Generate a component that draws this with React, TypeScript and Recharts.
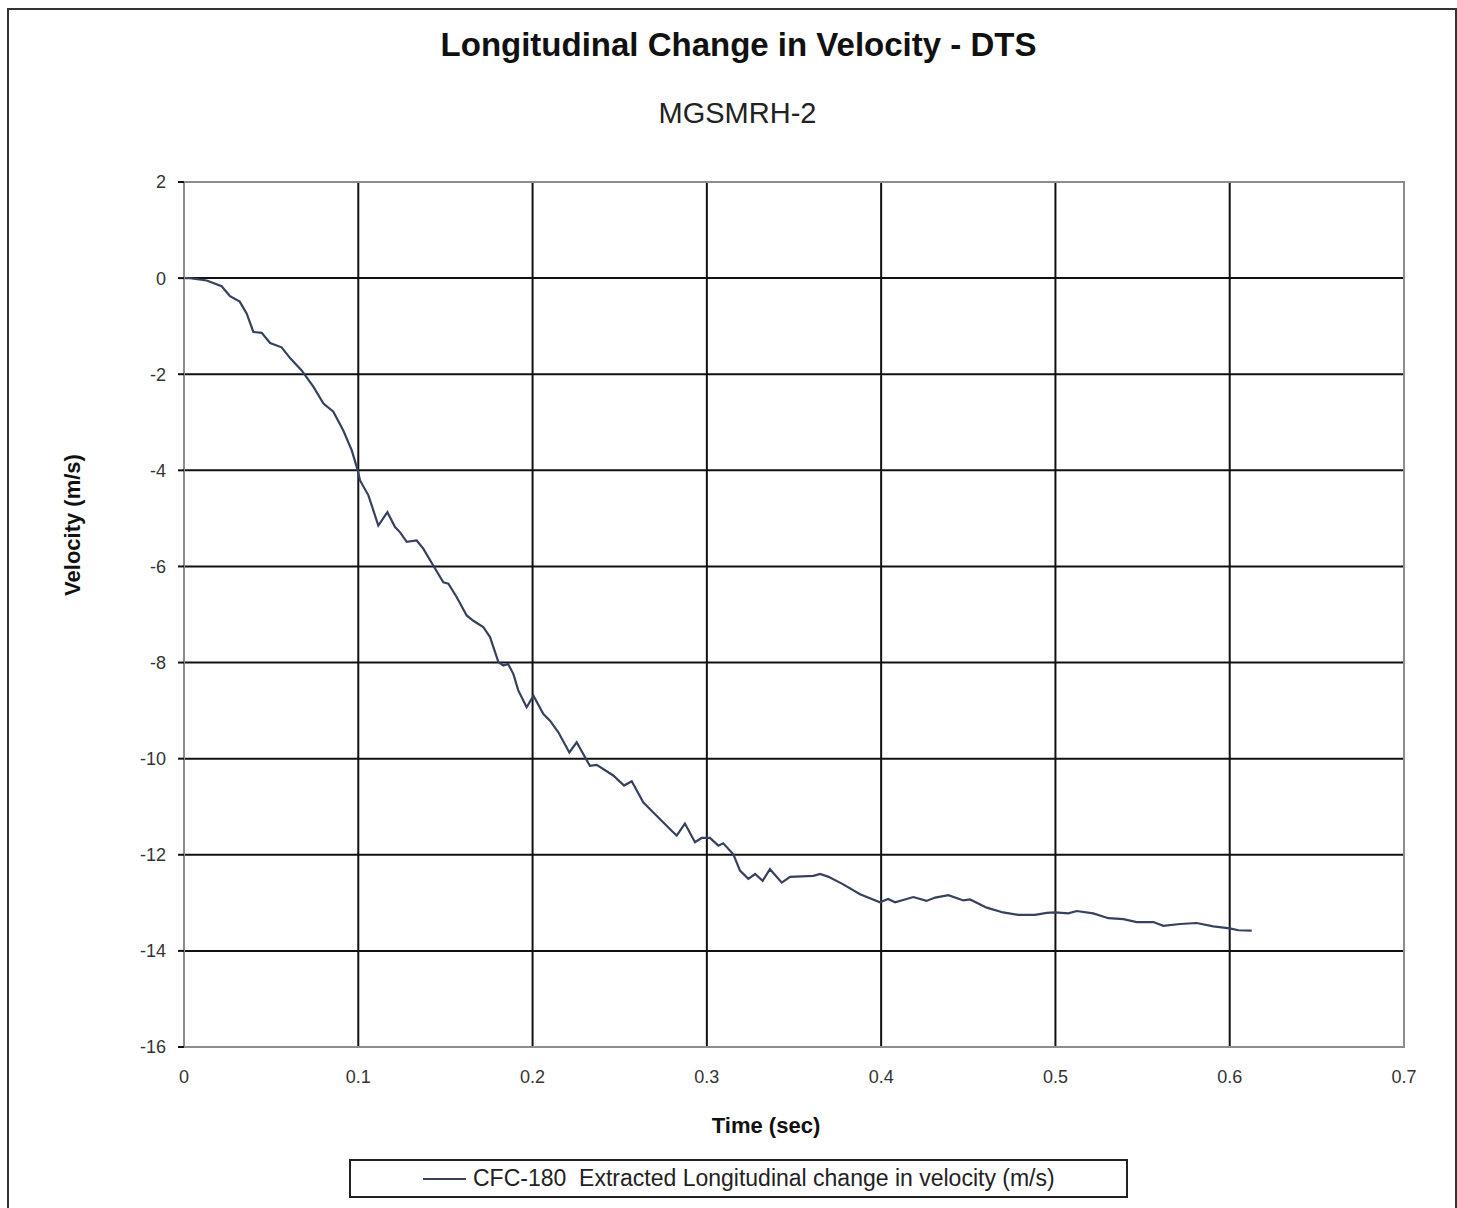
import { CartesianGrid, Legend, Line, LineChart, ReferenceArea, XAxis, YAxis } from "recharts";

const timeSec = [
  0, 0.0034, 0.013, 0.0216, 0.0264, 0.032, 0.036, 0.0398, 0.0446, 0.0494, 0.056, 0.061, 0.0675, 0.0742,
  0.08, 0.0857, 0.0914, 0.0962, 0.0997, 0.101, 0.1058, 0.1115, 0.1167, 0.1211, 0.124, 0.1278, 0.1335,
  0.1373, 0.143, 0.1488, 0.1517, 0.1565, 0.1622, 0.166, 0.1717, 0.1756, 0.1804, 0.1832, 0.186, 0.189,
  0.1918, 0.1966, 0.2005, 0.2062, 0.21, 0.2148, 0.2211, 0.2253, 0.2329, 0.2368, 0.2463, 0.2525, 0.2569,
  0.2635, 0.2693, 0.2798, 0.2827, 0.2874, 0.2932, 0.297, 0.3018, 0.3066, 0.3094, 0.3152, 0.319, 0.3238,
  0.3277, 0.332, 0.3362, 0.343, 0.3477, 0.3611, 0.365, 0.3698, 0.378, 0.3879, 0.3993, 0.404, 0.408,
  0.4185, 0.426, 0.431, 0.4386, 0.4472, 0.451, 0.4606, 0.47, 0.4787, 0.4883, 0.495, 0.4998, 0.5074,
  0.5122, 0.5217, 0.5304, 0.539, 0.5466, 0.5562, 0.5619, 0.5715, 0.581, 0.5906, 0.6, 0.605, 0.6126,
];

const velocity = [
  0, 0, -0.05, -0.17, -0.375, -0.49, -0.74, -1.12, -1.14, -1.35, -1.44, -1.67, -1.92, -2.26,
  -2.61, -2.78, -3.17, -3.58, -4.0, -4.21, -4.52, -5.15, -4.87, -5.18, -5.29, -5.49, -5.46,
  -5.63, -5.98, -6.33, -6.36, -6.64, -7.02, -7.13, -7.26, -7.47, -7.99, -8.06, -8.03, -8.24,
  -8.58, -8.93, -8.69, -9.07, -9.21, -9.45, -9.87, -9.66, -10.15, -10.13, -10.35, -10.56, -10.47,
  -10.91, -11.12, -11.5, -11.6, -11.35, -11.74, -11.65, -11.65, -11.81, -11.76, -11.99, -12.33, -12.5,
  -12.4, -12.54, -12.3, -12.58, -12.46, -12.44, -12.4, -12.46, -12.61, -12.82, -12.99, -12.92, -12.99,
  -12.88, -12.96, -12.89, -12.84, -12.95, -12.93, -13.1, -13.2, -13.25, -13.25, -13.21, -13.2, -13.22,
  -13.17, -13.22, -13.32, -13.34, -13.4, -13.4, -13.48, -13.44, -13.42, -13.49, -13.53, -13.57, -13.58,
];

const xTicks = [0, 0.1, 0.2, 0.3, 0.4, 0.5, 0.6, 0.7];
const yTicks = [2, 0, -2, -4, -6, -8, -10, -12, -14, -16];

const seriesName = "CFC-180  Extracted Longitudinal change in velocity (m/s)";
const lineColor = "#36415f";
const font = "'Liberation Sans', Arial, sans-serif";

const data = timeSec.map((t, i) => ({ t, v: velocity[i] }));

function LegendBox() {
  return (
    <div style={{ display: "flex", alignItems: "center", height: "100%", fontFamily: font }}>
      <svg width={50} height={10} style={{ marginLeft: 72 }}>
        <line x1={0} y1={5} x2={43} y2={5} stroke={lineColor} strokeWidth={2} />
      </svg>
      <span style={{ fontSize: 23, color: "#222", whiteSpace: "pre" }}>{seriesName}</span>
    </div>
  );
}

export default function App() {
  return (
    <div style={{ position: "absolute", left: 0, top: 0, width: 1457, height: 1208, background: "#fff", overflow: "hidden", fontFamily: font }}>
      <div style={{ position: "absolute", left: 7, top: 8, width: 1446, height: 1230, border: "2px solid #333" }} />
      <div style={{ position: "absolute", left: 0, width: 1477, top: 26, textAlign: "center", fontSize: 33, fontWeight: "bold", color: "#111" }}>
        Longitudinal Change in Velocity - DTS
      </div>
      <div style={{ position: "absolute", left: 0, width: 1475, top: 97, textAlign: "center", fontSize: 29, color: "#222" }}>
        MGSMRH-2
      </div>
      <LineChart width={1457} height={1208} data={data} margin={{ top: 182, right: 53, bottom: 121, left: 124 }} style={{ position: "absolute", left: 0, top: 0 }}>
        <CartesianGrid stroke="#111" strokeWidth={2} />
        <ReferenceArea x1={0} x2={0.7} y1={-16} y2={2} fill="none" stroke="#8c8c8c" strokeWidth={2} />
        <XAxis
          dataKey="t"
          type="number"
          domain={[0, 0.7]}
          ticks={xTicks}
          height={40}
          axisLine={{ stroke: "#8c8c8c", strokeWidth: 2 }}
          tickLine={false}
          tickSize={8}
          tickMargin={15}
          tick={{ fontSize: 18, fill: "#333", fontFamily: font }}
          label={{ value: "Time (sec)", position: "bottom", offset: 30, dx: -28, style: { fontSize: 22, fontWeight: "bold", fill: "#111", fontFamily: font } }}
        />
        <YAxis
          type="number"
          domain={[-16, 2]}
          ticks={yTicks}
          width={60}
          interval={0}
          axisLine={{ stroke: "#8c8c8c", strokeWidth: 2 }}
          tickLine={{ stroke: "#111", strokeWidth: 2 }}
          tickSize={6}
          tickMargin={12}
          tick={{ fontSize: 18, fill: "#333", fontFamily: font }}
          label={{
            content: () => (
              <text x={72} y={525} transform="rotate(-90, 72, 525)" textAnchor="middle" dominantBaseline="central" fontSize={22} fontWeight="bold" fill="#111" fontFamily={font}>
                Velocity (m/s)
              </text>
            ),
          }}
        />
        <Legend
          layout="horizontal"
          verticalAlign="middle"
          align="center"
          wrapperStyle={{ position: "absolute", left: 349, top: 1159, width: 779, height: 39, border: "2px solid #222", boxSizing: "border-box", background: "#fff" }}
          content={() => <LegendBox />}
        />
        <Line type="linear" dataKey="v" name={seriesName} stroke={lineColor} strokeWidth={2.2} dot={false} isAnimationActive={false} />
      </LineChart>
    </div>
  );
}
